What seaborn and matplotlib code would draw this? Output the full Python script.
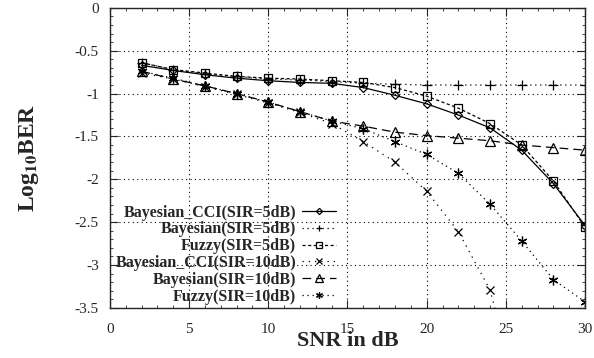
import numpy as np
import pandas as pd
import matplotlib
matplotlib.use("Agg")
import matplotlib.pyplot as plt
from matplotlib.ticker import MultipleLocator, FormatStrFormatter
import seaborn as sns

snr = [2, 4, 6, 8, 10, 12, 14, 16, 18, 20, 22, 24, 26, 28, 30]

bayes_cci_5 = [-0.67, -0.73, -0.78, -0.82, -0.85, -0.87, -0.88, -0.93, -1.02,
               -1.12, -1.25, -1.40, -1.66, -2.05, -2.54]
bayes_5 = [-0.64, -0.72, -0.77, -0.80, -0.83, -0.84, -0.86, -0.88, -0.89,
           -0.90, -0.90, -0.90, -0.90, -0.90, -0.90]
fuzzy_5 = [-0.64, -0.72, -0.76, -0.80, -0.82, -0.83, -0.85, -0.87, -0.93,
           -1.03, -1.17, -1.35, -1.60, -2.02, -2.56]
bayes_cci_10 = [-0.76, -0.83, -0.92, -1.01, -1.11, -1.22, -1.35, -1.56, -1.80,
                -2.14, -2.61, -3.29, -4.70]
bayes_10 = [-0.74, -0.83, -0.91, -1.00, -1.10, -1.21, -1.32, -1.38, -1.45,
            -1.49, -1.52, -1.55, -1.60, -1.63, -1.66]
fuzzy_10 = [-0.74, -0.82, -0.91, -1.00, -1.10, -1.21, -1.32, -1.41, -1.56,
            -1.71, -1.93, -2.29, -2.72, -3.17, -3.43]

labels = ["Bayesian_CCI(SIR=5dB)", "Bayesian(SIR=5dB)", "Fuzzy(SIR=5dB)",
          "Bayesian_CCI(SIR=10dB)", "Bayesian(SIR=10dB)", "Fuzzy(SIR=10dB)"]

sns.set_style("ticks")
plt.rcParams['font.family'] = ['Liberation Serif', 'DejaVu Serif']
plt.rcParams['mathtext.fontset'] = 'stix'
plt.rcParams['axes.unicode_minus'] = False

fig = plt.figure(figsize=(5.94, 3.58), dpi=100)
ax = fig.add_axes([0.185, 0.14, 0.8, 0.838])

series = [bayes_cci_5, bayes_5, fuzzy_5, bayes_cci_10, bayes_10, fuzzy_10]
markers = ['D', '+', 's', 'x', '^', (6, 2, 0)]
msizes = [4.5, 7, 6, 6, 7.5, 7]
dashes = ['-', (0, (1, 3)), (0, (2.5, 2)), (0, (1, 4)), (0, (7, 4)), (0, (1, 3))]

for vals, lab, mk, ms, ls in zip(series, labels, markers, msizes, dashes):
    df = pd.DataFrame({"snr": snr[:len(vals)], "ber": vals})
    filled = mk in ['+', 'x'] or isinstance(mk, tuple)
    sns.lineplot(data=df, x="snr", y="ber", ax=ax, color='black', lw=0.9,
                 marker=mk, markersize=ms, label=lab, linestyle=ls,
                 markerfacecolor='black' if filled else 'none',
                 markeredgecolor='black', markeredgewidth=0.9)

ax.set_xlim(0, 30)
ax.set_ylim(-3.5, 0)
ax.xaxis.set_major_locator(MultipleLocator(5))
ax.yaxis.set_major_locator(MultipleLocator(0.5))
ax.yaxis.set_major_formatter(FormatStrFormatter('%g'))
ax.xaxis.set_minor_locator(MultipleLocator(1))
ax.yaxis.set_minor_locator(MultipleLocator(0.1))
ax.tick_params(which='both', direction='in', top=True, right=True, labelsize=11)
ax.tick_params(which='major', length=6, pad=8)
ax.tick_params(axis='x', which='major', pad=11)
ax.tick_params(which='minor', length=2.5)
ax.grid(True, which='major', linestyle=(0, (1, 3)), color='black', lw=0.8)
for s in ax.spines.values():
    s.set_linewidth(1.0)

ax.set_xlabel("SNR in dB", fontsize=16, fontweight='bold', labelpad=-4)
ax.set_ylabel(r"Log$_{\mathbf{10}}$BER", fontsize=17, fontweight='bold', labelpad=24)

leg = ax.legend(loc='lower left', bbox_to_anchor=(-0.019, -0.037), frameon=False,
                markerfirst=False, prop={'weight': 'bold', 'size': 11.5},
                labelspacing=0.05, handlelength=2.1, handletextpad=0.4,
                markerscale=0.7)
for t in leg.get_texts():
    t.set_ha('right')
leg._legend_box.align = 'right'

fig.savefig("out.png", dpi=100)
